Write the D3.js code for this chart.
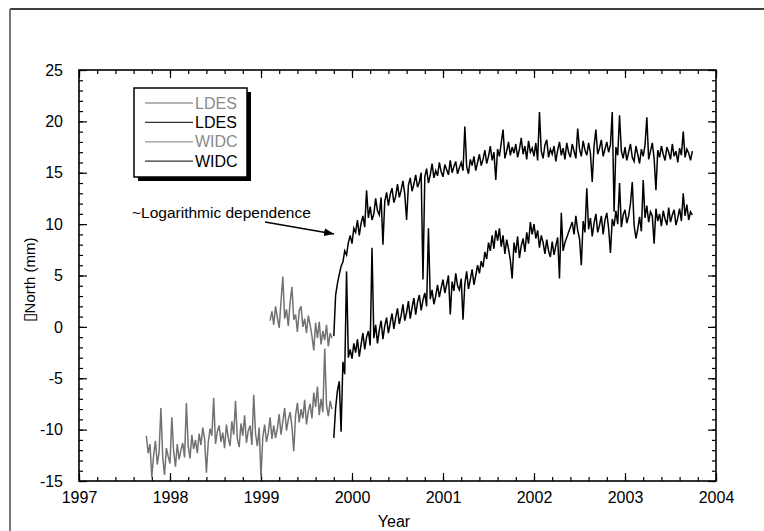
<!DOCTYPE html>
<html>
<head>
<meta charset="utf-8">
<script src="https://cdn.jsdelivr.net/npm/d3@7"></script>
<style>
  html, body { margin: 0; padding: 0; background: #fff; }
  svg { display: block; font-family: "Liberation Sans", Arial, sans-serif; }
</style>
</head>
<body>
<div class="chart"></div>
<script>
// --- Data (mm, sampled every 0.02 yr, null = missing) ---
const sampleStep = 0.02;

const ldesGrayStart = 1999.10;
const ldesGray = [
  0.6, 1.5, 0.2, 2.0, 0.9, -0.1, 2.5, 4.9, 0.8, 1.7,
  0.1, 2.4, 3.9, 0.7, 1.2, -0.5, 1.6, 2.0, 0.0, 0.8,
  -0.6, 1.1, 0.2, -0.9, -2.3, 0.4, -1.1, 0.5, -1.7, -0.4,
  -1.3, 0.2, -1.9, -0.6, -1.1
];

const widcGrayStart = 1997.74;
const widcGray = [
  -10.6, -12.3, -11.4, -14.6, -12.5, -11.1, -13.4, -12.2, -7.9, -12.7,
  -14.4, -11.8, -12.6, -13.3, -8.8, -12.1, -13.6, -11.4, -12.9, -12.0,
  -11.3, -12.7, -7.4, -11.6, -12.8, -10.5, -11.9, -11.0, -12.3, -10.4,
  -11.5, -9.8, -10.9, -14.2, -11.3, -9.9, -10.6, -6.9, -11.4, -10.2,
  -9.6, -11.2, -10.3, -11.8, -9.5, -10.8, -11.6, -9.2, -10.5, -7.2,
  -10.9, -11.7, -9.4, -10.6, -8.6, -11.3, -10.1, -9.6, -11.5, -6.6,
  -10.4, -11.6, -9.8, -14.6, -10.7, -9.5, -11.2, -10.3, -8.8, -10.9,
  -9.6, -10.8, -9.9, -8.5, -10.5, -9.2, -7.9, -10.1, -9.0, -8.3,
  -9.7, -12.1, -8.6, -7.4, -9.3, -8.0, -8.9, -7.1, -9.5, -8.2,
  -7.5, -8.9, -6.4, -7.8, -5.8, -8.6, -7.0, -8.3, -2.1, -7.6,
  -8.7, -7.2, -8.0
];

const ldesBlackStart = 1999.80;
const ldesBlack = [
  -0.9, 3.1, 4.2, 5.1, 5.9, 6.3, 7.4, 7.0, 8.2, 8.9,
  8.1, 9.6, 9.2, 10.4, 8.9, 10.1, 10.8, 9.7, 13.3, 10.6,
  11.7, 10.4, 11.0, 12.5, 11.3, 10.9, 12.6, 8.0, 12.2, 13.1,
  11.8, 12.9, 13.5, 12.1, 12.7, 13.9, 12.6, 13.3, 14.2, 12.9,
  10.4, 13.8, 14.5, 13.2, 13.9, 14.8, 13.6, 14.1, 15.0, 4.6,
  14.6, 15.4, 14.0, 14.8, 15.9, 14.5, 15.2, 14.7, 16.0, 15.1,
  14.6, 15.8, 15.3, 14.8, 16.2, 15.0, 15.6, 16.1, 14.9, 15.5,
  16.0, 15.2, 19.5, 15.6, 14.9, 16.3, 15.7, 16.6, 15.2, 16.0,
  16.8, 15.7, 16.3, 17.2, 15.9, 16.6, 17.6, 16.2, 17.0, 14.3,
  17.3, 16.6, 17.9, 19.2, 16.4, 17.1, 18.0, 16.7, 17.5, 16.9,
  17.8, 16.5, 17.3, 18.4, 16.8, 17.6, 16.3, 18.1, 17.0, 17.4,
  16.6, 17.9, 16.2, 20.9, 17.1, 16.4, 17.7, 18.2, 16.5, 17.3,
  16.8, 17.6, 16.1, 17.2, 18.0, 16.7, 17.4, 16.3, 17.9, 17.0,
  16.5, 17.8, 17.1, 16.4, 19.3, 17.3, 16.6, 18.1, 17.2, 16.7,
  17.9, 16.9, 14.1, 17.6, 19.2, 16.8, 17.4, 18.2, 16.6, 17.3,
  18.0, 17.0, 17.7, 20.9, 11.2, 17.5, 16.7, 20.6, 17.1, 16.4,
  17.5, 16.2, 17.0, 17.8, 16.5, 16.1, 17.6, 16.8, 15.9, 17.3,
  16.6, 17.7, 20.4, 16.3, 17.1, 17.9, 16.4, 13.3, 17.2, 16.5,
  17.6, 16.8, 16.2, 17.5, 17.0, 16.3, 17.8, 16.6, 17.1, 16.0,
  17.4, 16.7, 19.0, 16.5, 17.3, 16.9, 16.2, 17.1
];

const widcBlackStart = 1999.80;
const widcBlack = [
  -10.8, -7.9, -6.2, -5.3, -10.2, -3.4, -4.6, 5.4, -3.0, -2.2,
  -3.1, -1.6, -2.5, -1.2, -2.9, -1.7, -0.6, -2.2, -1.0, -0.4,
  -1.8, 7.7, -1.1, 0.2, -1.6, -0.3, 0.6, -1.2, 0.1, 0.9,
  -0.6, 0.4, 1.3, -0.2, 0.9, 1.8, 0.3, 1.1, 2.2, 0.6,
  1.4, 2.5, 0.8, 1.9, 2.8, 1.2, 2.4, 3.1, 1.6, 2.6,
  3.3, 2.0, 9.6, 2.7, 3.6, 2.2, 3.0, 4.1, 2.9, 3.8,
  4.6, 3.3, 4.1, 5.0, 1.2, 4.4, 3.5, 5.2, 4.0, 3.6,
  4.7, 0.7, 4.2, 5.4, 3.7, 4.6, 5.6, 4.1, 5.0, 6.0,
  5.2, 6.4, 5.8, 7.3, 6.6, 8.2, 7.4, 8.9, 7.6, 9.4,
  8.4, 9.6, 7.8, 8.9, 7.1, 8.5, 7.6, 6.5, 4.7, 8.2,
  7.2, 8.8, 6.7, 7.9, 8.6, 7.3, 9.2, 8.1, 10.2, 9.0,
  10.0, 8.6, 9.4, 7.7, 8.9, 8.2, 7.1, 8.5, 7.4, 6.8,
  8.3, 7.0, 7.9, 8.7, 4.7, 11.1, 7.4, 8.2, null, null,
  null, 10.2, 9.0, 10.8, 9.4, 8.6, 6.0, 10.3, 9.2, 13.5,
  9.5, 10.6, 8.8, 10.1, 11.0, 9.2, 9.9, 10.8, 9.0, 10.4,
  11.1, 9.6, 7.2, 10.5, 9.8, 11.3, 10.0, 14.0, 9.7, 10.9,
  11.4, 10.1, 10.8, 12.0, 14.1, 9.9, 8.6, 9.5, 10.7, 9.3,
  14.3, 10.6, 11.8, 10.2, 11.2, 10.8, 8.1, 11.5, 10.3, 11.0,
  9.8, 11.3, 10.5, 9.9, 11.6, 10.2, 10.9, 11.4, 9.9, 10.6,
  11.5, 10.3, 13.0, 10.8, 11.9, 10.4, 11.2, 10.9
];

const legendLabels = ["LDES", "LDES", "WIDC", "WIDC"];
const yearTicks = [1997, 1998, 1999, 2000, 2001, 2002, 2003, 2004];
const northTicks = [-15, -10, -5, 0, 5, 10, 15, 20, 25];

// --- Layout ---
const W = 764, H = 531;
const plot = { left: 79, right: 716, top: 70, bottom: 481 };
const gray = "#727272";
const fontSize = "16px";

const svg = d3.select(".chart")
  .append("svg")
  .attr("width", W)
  .attr("height", H);

// outer frame (cut off by the picture at right and bottom)
svg.append("line")
  .attr("x1", 10).attr("y1", 9).attr("x2", W).attr("y2", 9)
  .attr("stroke", "#000").attr("stroke-width", 1.3);
svg.append("line")
  .attr("x1", 10).attr("y1", 9).attr("x2", 10).attr("y2", H)
  .attr("stroke", "#777").attr("stroke-width", 2);

const x = d3.scaleLinear().domain([1997, 2004]).range([plot.left, plot.right]);
const y = d3.scaleLinear().domain([-15, 25]).range([plot.bottom, plot.top]);

// minor tick positions
const minorYears = d3.range(1997, 2004.001, 0.2).map(d => +d.toFixed(1));
const minorNorth = d3.range(-15, 25.001, 1);

function styleAxis(g) {
  g.select(".domain").remove();
  g.selectAll("line").attr("stroke", "#000").attr("stroke-width", 1.2);
  g.selectAll("text")
    .attr("fill", "#000")
    .style("font-size", fontSize)
    .style("font-family", "'Liberation Sans', Arial, sans-serif");
}

// --- Axes: majors inward 8px with labels, minors inward 4px ---
svg.append("g")
  .attr("transform", `translate(0,${plot.bottom})`)
  .call(d3.axisBottom(x).tickValues(yearTicks).tickSize(-8).tickPadding(11).tickFormat(d => String(d)))
  .call(styleAxis);
svg.append("g")
  .attr("transform", `translate(0,${plot.bottom})`)
  .call(d3.axisBottom(x).tickValues(minorYears).tickSize(-4).tickFormat(""))
  .call(styleAxis);
svg.append("g")
  .attr("transform", `translate(0,${plot.top})`)
  .call(d3.axisTop(x).tickValues(yearTicks).tickSize(-8).tickFormat(""))
  .call(styleAxis);
svg.append("g")
  .attr("transform", `translate(0,${plot.top})`)
  .call(d3.axisTop(x).tickValues(minorYears).tickSize(-4).tickFormat(""))
  .call(styleAxis);

svg.append("g")
  .attr("transform", `translate(${plot.left},0)`)
  .call(d3.axisLeft(y).tickValues(northTicks).tickSize(-8).tickPadding(16).tickFormat(d => String(d)))
  .call(styleAxis);
svg.append("g")
  .attr("transform", `translate(${plot.left},0)`)
  .call(d3.axisLeft(y).tickValues(minorNorth).tickSize(-4).tickFormat(""))
  .call(styleAxis);
svg.append("g")
  .attr("transform", `translate(${plot.right},0)`)
  .call(d3.axisRight(y).tickValues(northTicks).tickSize(-8).tickFormat(""))
  .call(styleAxis);
svg.append("g")
  .attr("transform", `translate(${plot.right},0)`)
  .call(d3.axisRight(y).tickValues(minorNorth).tickSize(-4).tickFormat(""))
  .call(styleAxis);

// plot frame
svg.append("rect")
  .attr("x", plot.left).attr("y", plot.top)
  .attr("width", plot.right - plot.left)
  .attr("height", plot.bottom - plot.top)
  .attr("fill", "none")
  .attr("stroke", "#000")
  .attr("stroke-width", 1.6);

// --- Series ---
const toPoints = (start, vals) => vals
  .map((v, i) => ({ t: start + i * sampleStep, v }))
  .filter(d => d.v !== null);

const line = d3.line().x(d => x(d.t)).y(d => y(d.v));

const series = [
  { pts: toPoints(widcGrayStart, widcGray), color: gray },
  { pts: toPoints(ldesGrayStart, ldesGray), color: gray },
  { pts: toPoints(widcBlackStart, widcBlack), color: "#000" },
  { pts: toPoints(ldesBlackStart, ldesBlack), color: "#000" }
];

svg.append("g")
  .selectAll("path")
  .data(series)
  .join("path")
  .attr("d", d => line(d.pts))
  .attr("fill", "none")
  .attr("stroke", d => d.color)
  .attr("stroke-width", 1.5)
  .attr("stroke-linejoin", "miter");

// --- Axis titles ---
svg.append("text")
  .attr("x", 394).attr("y", 527)
  .attr("text-anchor", "middle")
  .style("font-size", fontSize)
  .text("Year");

const yTitle = svg.append("text")
  .attr("transform", "translate(35,280) rotate(-90)")
  .attr("text-anchor", "middle")
  .style("font-size", "15px");
yTitle.append("tspan").style("font-size", "17px").text("\u25AF");
yTitle.append("tspan").text("North (mm)");

// --- Annotation ---
const defs = svg.append("defs");
defs.append("marker")
  .attr("id", "arrowHead")
  .attr("viewBox", "0 0 10 8")
  .attr("refX", 10).attr("refY", 4)
  .attr("markerWidth", 10).attr("markerHeight", 8)
  .attr("markerUnits", "userSpaceOnUse")
  .attr("orient", "auto")
  .append("path")
  .attr("d", "M0,0 L10,4 L0,8 Z")
  .attr("fill", "#000");

svg.append("text")
  .attr("x", 132).attr("y", 218)
  .style("font-size", "15.5px")
  .text("~Logarithmic dependence");

svg.append("line")
  .attr("x1", 265).attr("y1", 222)
  .attr("x2", 334).attr("y2", 234)
  .attr("stroke", "#000")
  .attr("stroke-width", 1.5)
  .attr("marker-end", "url(#arrowHead)");

// --- Legend ---
const legend = svg.append("g");
legend.append("rect")
  .attr("x", 138).attr("y", 92)
  .attr("width", 113).attr("height", 89)
  .attr("fill", "#000");
legend.append("rect")
  .attr("x", 134).attr("y", 88)
  .attr("width", 113).attr("height", 89)
  .attr("fill", "#fff")
  .attr("stroke", "#000")
  .attr("stroke-width", 1.5);

const legendRows = legend.selectAll("g.row")
  .data(legendLabels)
  .join("g")
  .attr("class", "row")
  .attr("transform", (d, i) => `translate(0,${103 + i * 19.4})`);

legendRows.append("line")
  .attr("x1", 145).attr("x2", 193)
  .attr("y1", 0).attr("y2", 0)
  .attr("stroke", (d, i) => i % 2 ? "#333" : "#999")
  .attr("stroke-width", 1.3);

legendRows.append("text")
  .attr("x", 195).attr("y", 5.5)
  .style("font-size", "16px")
  .attr("fill", (d, i) => i % 2 ? "#000" : "#8a8a8a")
  .text(d => d);
</script>
</body>
</html>
